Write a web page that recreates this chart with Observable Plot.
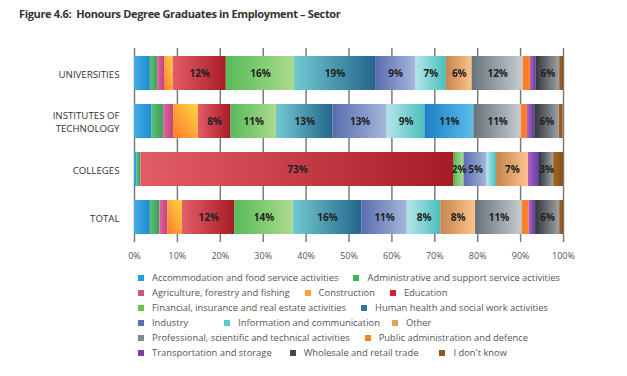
<!DOCTYPE html>
<html><head><meta charset="utf-8">
<script src="https://cdn.jsdelivr.net/npm/d3@7"></script>
<script src="https://cdn.jsdelivr.net/npm/@observablehq/plot@0.6"></script>
<style>
body{margin:0;background:#fff;font-family:"Open Sans",sans-serif;}
#title{height:30px;line-height:28px;padding-left:19px;font-weight:700;font-size:11px;letter-spacing:-0.35px;color:#333;white-space:pre;}
#chart svg{display:block}
#legend{margin-left:138px;padding-top:2px;font-size:9.4px;color:#555;}
.row{height:15px;display:flex;align-items:center;white-space:nowrap}
.item{display:flex;align-items:center}
.sw{width:6px;height:6px;margin-right:8px}
</style></head><body>
<div id="title">Figure 4.6:  Honours Degree Graduates in Employment – Sector</div>
<div id="chart"></div>
<div id="legend"></div>
<script>
const groups = ["UNIVERSITIES", "INSTITUTES OF TECHNOLOGY", "COLLEGES", "TOTAL"];
const sectors = [
  "Accommodation and food service activities",
  "Administrative and support service activities",
  "Agriculture, forestry and fishing",
  "Construction",
  "Education",
  "Financial, insurance and real estate activities",
  "Human health and social work activities",
  "Industry",
  "Information and communication",
  "Other",
  "Professional, scientific and technical activities",
  "Public administration and defence",
  "Transportation and storage",
  "Wholesale and retail trade",
  "I don't know"
];
// percentages per group, in sector order
const universities = [3.7, 1.7, 1.6, 2.0, 12.4, 15.9, 18.9, 9.3, 7.2, 6.0, 11.9, 1.7, 1.3, 5.5, 0.9];
const institutes  = [4.1, 2.7, 2.3, 5.8, 7.6, 10.6, 13.2, 12.6, 8.8, 11.4, 11.1, 1.4, 1.7, 5.7, 0.9];
const colleges    = [0.6, 0.9, 0, 0, 73.0, 2.3, 0, 5.4, 2.2, 7.4, 0, 0, 2.6, 3.3, 2.3];
const total       = [3.7, 2.2, 1.9, 3.4, 12.2, 13.6, 16.0, 10.6, 7.8, 8.1, 10.9, 1.6, 1.5, 5.6, 0.9];
const seriesByGroup = [universities, institutes, colleges, total];

// sectors that carry a value label in the figure
const labelledSectors = [
  "Education", "Financial, insurance and real estate activities",
  "Human health and social work activities", "Industry",
  "Information and communication", "Other",
  "Professional, scientific and technical activities", "Wholesale and retail trade"
];
const minLabelled = 2.3;

// legend layout rows (sector indices) and the gaps before the following items
const legendRows = [[0, 1], [2, 3, 4], [5, 6], [7, 8, 9], [10, 11], [12, 13, 14]];
const legendGaps = [[15], [15, 15], [15], [36, 12], [15], [18, 21]];

// colours: flat swatch, gradient start, gradient end
const swatch = ["#2a9ad8", "#3db35a", "#d0508a", "#ffa030", "#d0252f", "#6cc04a", "#2a7aa0", "#5a70b0", "#5cc8d0", "#e0a060", "#808a90", "#ff7f27", "#8040a0", "#404850", "#8b5a2b"];
const gradFrom = ["#45ade3", "#5cc070", "#e0649c", "#ff7a2c", "#e35d67", "#56bb58", "#72c9d1", "#5a6cb0", "#b3e6ea", "#c68650", "#67737a", "#ff7b28", "#b262c2", "#33373b", "#a4651f"];
const gradTo   = ["#1e8bd0", "#3b9f5e", "#c2437f", "#ffd545", "#a61c26", "#acda8c", "#23658a", "#a5b8da", "#4dbdbd", "#fdc28a", "#c7cdd0", "#ff822e", "#5e3f9f", "#9ca2a6", "#8a5118"];
// the "Other" cell of the institutes bar is drawn in blue in the figure
const altCell = {group: "INSTITUTES OF TECHNOLOGY", sector: "Other", from: "#1d7fc7", to: "#5bbde9"};

const data = [];
groups.forEach((g, gi) => sectors.forEach((s, si) => {
  data.push({group: g, sector: s, si, value: seriesByGroup[gi][si]});
}));
const fillOf = d => (d.group === altCell.group && d.sector === altCell.sector) ? "url(#galt)" : `url(#g${d.si})`;

const plot = Plot.plot({
  width: 627, height: 238,
  marginTop: 18, marginBottom: 26, marginLeft: 134, marginRight: 64,
  style: {fontFamily: "Open Sans", fontSize: "9px", color: "#444", background: "transparent"},
  x: {domain: [0, 100]},
  y: {domain: groups, paddingInner: 0.3, paddingOuter: 0.144},
  marks: [
    Plot.gridX({ticks: d3.range(0, 101, 10), stroke: "#7a7a7a", strokeOpacity: 1, strokeWidth: 1.5}),
    Plot.barX(data, Plot.stackX({x: "value", y: "group", z: "sector", fill: fillOf, order: null})),
    Plot.text(data, Plot.stackX({
      x: "value", y: "group", z: "sector", order: null,
      text: d => (labelledSectors.includes(d.sector) && d.value >= minLabelled) ? Math.round(d.value) + "%" : "",
      fontWeight: 700, fontSize: 10, fill: "#222"
    })),
    Plot.axisX({ticks: d3.range(0, 101, 10), tickSize: 0, tickPadding: 10, tickFormat: d => d + "%", fill: "#555", label: null}),
    Plot.axisY({tickSize: 0, tickPadding: 15, label: null, fill: "#333", fontSize: 9.7, lineHeight: 1.3,
      tickFormat: d => d === "INSTITUTES OF TECHNOLOGY" ? "INSTITUTES OF\nTECHNOLOGY" : d})
  ]
});

// gradient definitions
const svg = d3.select(plot);
const defs = svg.insert("defs", ":first-child");
function addGrad(id, a, b, diag) {
  const lg = defs.append("linearGradient").attr("id", id)
    .attr("x1", 0).attr("y1", diag ? 1 : 0).attr("x2", 1).attr("y2", 0);
  lg.append("stop").attr("offset", "0%").attr("stop-color", a);
  lg.append("stop").attr("offset", "100%").attr("stop-color", b);
}
sectors.forEach((s, i) => addGrad("g" + i, gradFrom[i], gradTo[i], s === "Construction"));
addGrad("galt", altCell.from, altCell.to, false);

document.getElementById("chart").appendChild(plot);

// legend
const legend = d3.select("#legend");
legendRows.forEach((r, ri) => {
  const row = legend.append("div").attr("class", "row");
  r.forEach((i, k) => {
    const it = row.append("div").attr("class", "item")
      .style("margin-left", k === 0 ? "0px" : legendGaps[ri][k - 1] + "px");
    it.append("span").attr("class", "sw").style("background", swatch[i]);
    it.append("span").text(sectors[i]);
  });
});
</script>
</body></html>
